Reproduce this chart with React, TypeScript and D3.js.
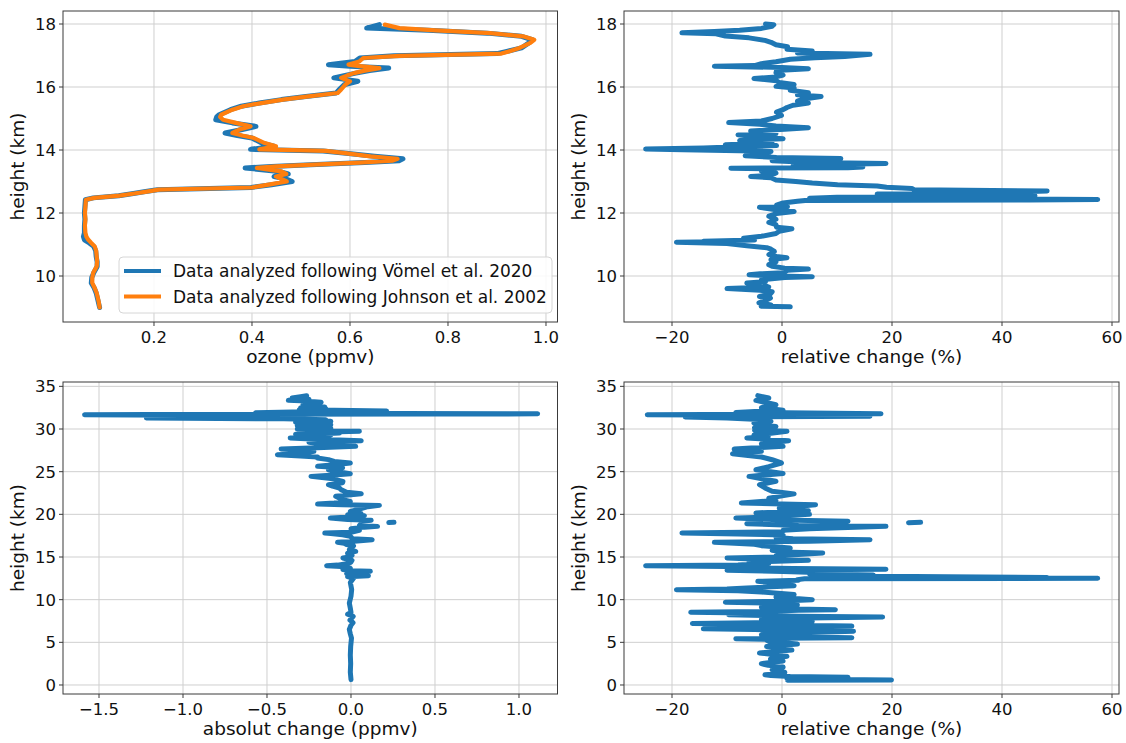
import React from "react";
import * as d3 from "d3";

// ---------- DATA ----------
// Panel 1: ozone profiles (9–18 km)
const ozoneHeights = [9.0, 9.2, 9.46, 9.62, 9.78, 9.95, 10.1, 10.3, 10.45, 10.62, 10.8, 10.94, 11.05, 11.15, 11.25, 11.37, 11.6, 11.8, 12.0, 12.2, 12.42, 12.48, 12.55, 12.62, 12.68, 12.74, 12.81, 12.9, 13.0, 13.08, 13.16, 13.24, 13.32, 13.43, 13.48, 13.53, 13.6, 13.66, 13.72, 13.8, 13.9, 13.97, 14.02, 14.12, 14.22, 14.38, 14.46, 14.54, 14.65, 14.75, 14.86, 14.96, 15.05, 15.12, 15.28, 15.39, 15.49, 15.6, 15.7, 15.81, 15.92, 16.07, 16.18, 16.29, 16.37, 16.44, 16.52, 16.6, 16.66, 16.71, 16.81, 16.92, 16.99, 17.06, 17.13, 17.24, 17.4, 17.5, 17.61, 17.71, 17.8, 17.87, 17.98];
const ozoneJohnson = [0.089, 0.087, 0.083, 0.079, 0.074, 0.074, 0.076, 0.083, 0.084, 0.083, 0.082, 0.079, 0.072, 0.066, 0.062, 0.06, 0.059, 0.06, 0.059, 0.06, 0.061, 0.078, 0.13, 0.16, 0.185, 0.21, 0.4, 0.434, 0.471, 0.46, 0.449, 0.47, 0.46, 0.41, 0.45, 0.515, 0.62, 0.686, 0.697, 0.642, 0.59, 0.55, 0.415, 0.449, 0.426, 0.404, 0.38, 0.36, 0.374, 0.397, 0.367, 0.341, 0.335, 0.337, 0.36, 0.382, 0.419, 0.463, 0.515, 0.575, 0.582, 0.59, 0.6, 0.582, 0.595, 0.608, 0.63, 0.66, 0.62, 0.597, 0.619, 0.627, 0.701, 0.909, 0.924, 0.946, 0.968, 0.976, 0.953, 0.886, 0.775, 0.701, 0.671];
const ozoneVomel = [0.089, 0.086, 0.082, 0.078, 0.072, 0.073, 0.077, 0.084, 0.084, 0.082, 0.081, 0.077, 0.068, 0.058, 0.056, 0.058, 0.058, 0.059, 0.058, 0.059, 0.06, 0.076, 0.128, 0.158, 0.183, 0.207, 0.398, 0.44, 0.482, 0.47, 0.445, 0.474, 0.455, 0.386, 0.44, 0.52, 0.63, 0.7, 0.708, 0.65, 0.592, 0.545, 0.397, 0.445, 0.42, 0.4, 0.37, 0.345, 0.38, 0.408, 0.36, 0.326, 0.328, 0.333, 0.356, 0.378, 0.415, 0.46, 0.51, 0.572, 0.578, 0.588, 0.616, 0.567, 0.59, 0.612, 0.64, 0.679, 0.6, 0.556, 0.61, 0.62, 0.69, 0.9, 0.92, 0.95, 0.965, 0.972, 0.95, 0.88, 0.76, 0.634, 0.66];

// Panel 2: relative change (%) 9–18 km, [height km, change %]
const relUpper: [number, number][] = [
  [9.02, 1.5], [9.04, -3.8], [9.08, -2.0], [9.15, -4.2], [9.22, -3.0], [9.3, -2.1], [9.35, -4.1], [9.42, -2.2], [9.5, -1.8], [9.55, -4.0], [9.6, -10.0], [9.63, -6.0], [9.65, -2.4], [9.72, -3.5], [9.78, -6.4], [9.82, -3.0], [9.88, -3.75], [9.95, 0.5], [9.98, 5.5], [10.0, -1.0], [10.04, -6.0], [10.07, -4.0], [10.1, 0.2], [10.18, 1.0], [10.22, 4.8], [10.25, 0.5], [10.31, -1.8], [10.36, -2.4], [10.45, -1.1], [10.52, -2.0], [10.58, 0.9], [10.62, -1.0], [10.68, -2.4], [10.78, -1.4], [10.85, -2.0], [10.9, -2.8], [10.96, -6.4], [11.03, -10.0], [11.07, -19.2], [11.09, -12.0], [11.1, -14.3], [11.14, -5.0], [11.2, -7.0], [11.26, -3.75], [11.35, -1.1], [11.42, -0.5], [11.5, 1.8], [11.55, -1.0], [11.63, -1.1], [11.7, -2.4], [11.8, -1.1], [11.9, -2.4], [11.98, -1.0], [12.05, 2.2], [12.1, -1.1], [12.18, -4.1], [12.2, 1.0], [12.25, -1.0], [12.32, 0.2], [12.37, 2.8], [12.4, 4.2], [12.41, 45.0], [12.43, 57.4], [12.45, 35.0], [12.47, 5.0], [12.5, 10.0], [12.55, 46.0], [12.58, 31.8], [12.6, 17.3], [12.63, 35.0], [12.7, 48.2], [12.74, 24.0], [12.78, 23.6], [12.82, 19.0], [12.86, 17.3], [12.9, 10.1], [12.95, 5.5], [13.0, 2.5], [13.05, -1.1], [13.12, -2.0], [13.16, -5.7], [13.2, -2.0], [13.27, -1.1], [13.33, -3.75], [13.4, -2.0], [13.42, -9.3], [13.44, 12.0], [13.46, 14.7], [13.5, 2.0], [13.55, 10.0], [13.57, 18.9], [13.6, 5.5], [13.66, -1.8], [13.71, 2.0], [13.73, 10.7], [13.76, -1.0], [13.82, -6.7], [13.86, -2.4], [13.9, -5.0], [13.95, -2.0], [13.98, -7.7], [14.01, -18.0], [14.03, -24.8], [14.06, -14.3], [14.1, -8.0], [14.14, -1.0], [14.17, -10.3], [14.22, -1.8], [14.3, -7.7], [14.36, 0.2], [14.42, -5.0], [14.48, -8.0], [14.52, -1.1], [14.6, -5.7], [14.66, 0.5], [14.71, 4.8], [14.76, -1.1], [14.82, -4.0], [14.87, -9.7], [14.92, -3.75], [15.0, -1.8], [15.1, -0.1], [15.2, -1.0], [15.28, 0.2], [15.35, 0.9], [15.42, 2.0], [15.49, 4.8], [15.55, 2.8], [15.62, 4.0], [15.7, 7.1], [15.75, 2.8], [15.82, 4.8], [15.9, 1.5], [15.97, 2.2], [16.02, -1.1], [16.08, 2.2], [16.14, -0.5], [16.2, -1.0], [16.27, -5.1], [16.32, -1.1], [16.38, 0.2], [16.45, -1.1], [16.52, -1.0], [16.58, 4.8], [16.62, 0.0], [16.66, -12.3], [16.68, -5.0], [16.74, -3.75], [16.8, -1.1], [16.88, 1.5], [16.93, 6.0], [16.97, 11.4], [17.04, 16.0], [17.08, 2.8], [17.14, 5.5], [17.2, 0.9], [17.28, 1.0], [17.34, -1.1], [17.42, -2.0], [17.48, -3.1], [17.56, -6.0], [17.62, -10.3], [17.69, -12.0], [17.72, -18.2], [17.76, -12.3], [17.8, -7.7], [17.86, -3.75], [17.93, -1.8], [17.98, -1.5], [18.0, -3.0],
];

// Panel 3: absolute change (ppmv) 0–34 km, [height km, change ppmv]
const absChange: [number, number][] = [
  [0.63, 0.0], [1.5, -0.004], [2.5, -0.002], [3.5, -0.004], [4.5, -0.002], [5.5, 0.003], [6.0, -0.004], [6.5, -0.01], [7.0, 0.0], [7.3, 0.012], [7.6, -0.006], [8.05, 0.013], [8.3, -0.02], [8.5, 0.0], [9.0, -0.004], [9.6, -0.01], [10.4, 0.0], [11.2, 0.004], [12.0, -0.004], [12.5, 0.015], [12.7, -0.02], [12.8, 0.104], [12.9, 0.03], [13.05, -0.026], [13.2, 0.06], [13.32, 0.115], [13.4, 0.0], [13.52, -0.048], [13.7, -0.004], [13.9, -0.06], [13.98, -0.145], [14.05, -0.08], [14.2, -0.026], [14.4, 0.0], [14.61, 0.006], [14.88, -0.048], [15.0, -0.01], [15.2, 0.006], [15.45, -0.02], [15.66, 0.028], [15.85, -0.01], [16.05, -0.004], [16.3, 0.015], [16.45, -0.026], [16.6, -0.04], [16.72, -0.08], [16.85, 0.02], [17.03, 0.126], [17.15, 0.01], [17.42, -0.004], [17.6, -0.05], [17.75, -0.12], [17.81, -0.156], [17.9, 0.0], [18.13, 0.05], [18.3, 0.0], [18.5, 0.08], [18.59, 0.158], [18.7, 0.05], [18.91, 0.061], [18.95, NaN], [19.03, 0.225], [19.06, 0.256], [19.1, NaN], [19.18, 0.061], [19.3, 0.12], [19.4, -0.02], [19.57, -0.123], [19.7, 0.0], [19.85, 0.08], [19.96, -0.02], [20.1, 0.06], [20.35, -0.004], [20.6, 0.05], [20.9, 0.1], [21.05, 0.169], [21.13, -0.05], [21.2, -0.199], [21.33, -0.1], [21.5, -0.004], [21.72, -0.05], [22.11, -0.091], [22.3, 0.0], [22.42, 0.061], [22.6, -0.026], [22.9, -0.06], [23.09, -0.069], [23.3, -0.11], [23.48, -0.134], [23.7, -0.05], [23.87, -0.048], [24.2, -0.12], [24.45, -0.238], [24.6, -0.1], [24.77, -0.004], [25.0, -0.08], [25.23, -0.134], [25.45, -0.05], [25.63, -0.199], [25.8, -0.1], [26.02, -0.004], [26.2, -0.1], [26.41, -0.134], [26.6, -0.2], [26.72, -0.199], [26.85, -0.3], [26.99, -0.438], [27.1, -0.3], [27.38, -0.221], [27.5, -0.3], [27.66, -0.416], [27.8, -0.2], [27.97, 0.028], [28.1, -0.1], [28.28, -0.178], [28.45, -0.25], [28.63, 0.061], [28.8, -0.2], [28.9, -0.3], [28.95, -0.362], [29.0, -0.15], [29.1, -0.3], [29.22, -0.243], [29.3, -0.12], [29.4, -0.33], [29.5, -0.1], [29.53, -0.069], [29.6, -0.25], [29.73, 0.05], [29.8, -0.3], [29.9, -0.15], [30.0, -0.32], [30.1, -0.12], [30.2, -0.3], [30.31, -0.15], [30.4, -0.32], [30.5, -0.12], [30.6, -0.3], [30.7, -0.14], [30.8, -0.33], [30.9, -0.12], [31.0, -0.3], [31.09, -0.15], [31.2, -0.4], [31.28, -1.218], [31.32, -0.9], [31.4, -0.654], [31.55, -0.3], [31.62, -1.0], [31.66, -1.586], [31.7, -1.2], [31.75, 0.5], [31.78, 1.111], [31.82, 0.3], [31.9, -0.568], [32.0, -0.35], [32.11, 0.212], [32.2, -0.1], [32.27, -0.308], [32.4, -0.15], [32.5, -0.3], [32.58, -0.156], [32.7, -0.25], [32.85, -0.286], [33.0, -0.2], [33.13, -0.178], [33.3, -0.3], [33.36, -0.373], [33.5, -0.25], [33.63, -0.351], [33.8, -0.3], [33.91, -0.264],
];

// Panel 4: relative change (%) 0–34 km, [height km, change %]
const relFull: [number, number][] = [
  [0.55, 1.0], [0.6, 19.9], [0.68, 5.0], [0.75, 0.9], [0.9, 12.0], [1.0, 1.5], [1.1, -2.0], [1.2, -3.1], [1.35, 0.0], [1.5, 0.5], [1.8, -1.8], [2.1, 0.2], [2.3, -2.5], [2.5, -3.75], [2.8, 0.2], [3.05, -2.1], [3.36, 0.9], [3.6, -2.0], [3.75, -4.1], [4.1, 1.8], [4.5, -2.8], [4.8, 2.8], [5.1, -2.4], [5.35, -3.0], [5.42, -8.4], [5.48, 0.0], [5.55, 12.7], [5.65, 2.0], [5.9, -3.75], [6.1, 2.0], [6.3, 13.0], [6.4, 3.0], [6.5, -5.0], [6.58, -14.3], [6.7, -3.0], [6.85, 5.0], [6.9, 12.7], [7.0, 2.0], [7.15, -6.0], [7.2, -16.3], [7.3, -5.0], [7.46, 5.5], [7.7, -3.75], [7.85, 5.0], [7.97, 18.3], [8.05, 3.0], [8.24, -9.7], [8.4, -3.0], [8.52, -16.6], [8.6, -4.0], [8.75, 3.0], [8.83, 9.7], [8.95, 0.0], [9.14, -3.75], [9.4, 2.8], [9.6, -3.0], [9.69, -10.3], [9.8, -2.0], [10.0, 5.5], [10.31, -1.1], [10.6, 2.2], [10.9, -3.75], [11.05, -8.0], [11.17, -19.2], [11.25, -10.0], [11.37, -6.4], [11.5, -2.0], [11.64, 2.2], [11.95, -1.1], [12.15, -4.4], [12.27, 3.0], [12.35, 2.8], [12.45, 4.1], [12.5, 57.4], [12.55, 20.0], [12.6, 48.2], [12.7, 30.0], [12.8, 6.0], [12.9, 16.6], [13.0, 5.0], [13.1, 10.7], [13.3, 0.2], [13.45, -10.0], [13.5, 5.0], [13.56, 18.9], [13.65, 2.0], [13.79, -9.7], [13.9, -10.0], [13.98, -24.8], [14.05, -8.0], [14.26, -2.4], [14.4, -6.0], [14.61, 4.8], [14.7, -3.0], [14.88, -10.0], [15.0, -1.1], [15.16, -1.1], [15.3, 3.0], [15.47, 7.4], [15.6, 0.0], [15.78, -1.8], [16.05, 1.5], [16.33, -3.75], [16.5, -5.0], [16.72, -12.3], [16.85, 5.0], [17.03, 16.0], [17.15, 2.0], [17.3, -1.1], [17.58, 0.2], [17.7, -8.0], [17.81, -18.2], [17.95, 0.2], [18.13, 0.2], [18.3, 5.0], [18.59, 18.9], [18.7, 3.0], [18.91, -6.4], [18.95, NaN], [19.02, 23.0], [19.06, 25.2], [19.1, NaN], [19.2, 12.0], [19.35, 0.0], [19.57, -8.4], [19.7, 0.0], [19.88, 1.5], [20.0, 5.0], [20.16, -4.75], [20.43, 4.8], [20.74, -0.5], [20.95, 3.0], [21.13, 6.1], [21.2, 0.0], [21.33, -7.4], [21.64, -1.1], [21.9, -2.4], [22.4, 2.2], [22.7, -1.8], [23.1, -3.1], [23.48, -4.1], [23.87, -1.1], [24.45, -6.0], [24.8, 0.2], [25.23, -4.75], [25.6, -2.4], [26.02, -0.1], [26.4, -1.8], [26.72, -3.75], [27.1, -9.0], [27.38, -3.75], [27.66, -8.7], [27.97, 0.2], [28.28, -3.75], [28.63, 1.2], [28.95, -6.4], [29.1, -2.5], [29.3, -5.1], [29.5, -2.0], [29.73, 0.9], [29.85, -5.0], [30.0, -3.75], [30.15, -5.0], [30.31, -1.1], [30.5, -4.5], [30.7, -5.1], [30.9, -2.0], [31.09, -3.1], [31.3, -10.0], [31.4, -17.6], [31.5, 16.0], [31.6, -5.0], [31.68, -24.5], [31.75, 0.0], [31.8, 18.0], [31.95, -8.4], [32.2, 0.2], [32.5, -3.75], [32.85, -1.1], [33.13, -3.1], [33.36, -4.75], [33.63, -2.4], [33.91, -4.4],
];

// Ticks and labels
const ozoneTicks = [0.2, 0.4, 0.6, 0.8, 1.0];
const relTicks = [-20, 0, 20, 40, 60];
const absTicks = [-1.5, -1.0, -0.5, 0.0, 0.5, 1.0];
const upperHeightTicks = [10, 12, 14, 16, 18];
const fullHeightTicks = [0, 5, 10, 15, 20, 25, 30, 35];
const legendLabels = ["Data analyzed following Vömel et al. 2020", "Data analyzed following Johnson et al. 2002"];

const BLUE = "#1f77b4";
const ORANGE = "#ff7f0e";
const FONT = "DejaVu Sans, Verdana, sans-serif";

type Pt = [number, number];
type Series = { points: Pt[]; color: string; width: number };

type PanelProps = {
  left: number; top: number; right: number; bottom: number;
  xDomain: [number, number]; yDomain: [number, number];
  xTicks: number[]; yTicks: number[];
  xFormat: (v: number) => string;
  xLabel: string; yLabel: string;
  series: Series[];
  legend?: boolean;
};

function Panel(p: PanelProps) {
  const x = d3.scaleLinear().domain(p.xDomain).range([p.left, p.right]);
  const y = d3.scaleLinear().domain(p.yDomain).range([p.bottom, p.top]);
  const line = d3
    .line<Pt>()
    .defined((d) => !isNaN(d[1]))
    .x((d) => x(d[1]))
    .y((d) => y(d[0]));
  const gridColor = "#cfcfcf";
  const spine = "#3a3a3a";
  const cx = (p.left + p.right) / 2;
  const cy = (p.top + p.bottom) / 2;
  return (
    <g>
      {p.xTicks.map((t) => (
        <line key={"gx" + t} x1={x(t)} x2={x(t)} y1={p.top} y2={p.bottom} stroke={gridColor} strokeWidth={1} />
      ))}
      {p.yTicks.map((t) => (
        <line key={"gy" + t} x1={p.left} x2={p.right} y1={y(t)} y2={y(t)} stroke={gridColor} strokeWidth={1} />
      ))}
      {p.series.map((s, i) => (
        <path
          key={"s" + i}
          d={line(s.points) || ""}
          fill="none"
          stroke={s.color}
          strokeWidth={s.width}
          strokeLinejoin="round"
          strokeLinecap="round"
        />
      ))}
      <rect x={p.left} y={p.top} width={p.right - p.left} height={p.bottom - p.top} fill="none" stroke={spine} strokeWidth={1} />
      {p.xTicks.map((t) => (
        <g key={"xt" + t}>
          <line x1={x(t)} x2={x(t)} y1={p.bottom} y2={p.bottom + 4} stroke={spine} strokeWidth={1} />
          <text x={x(t)} y={p.bottom + 21} textAnchor="middle" fontSize={16.5} fontFamily={FONT} fill="#111">
            {p.xFormat(t)}
          </text>
        </g>
      ))}
      {p.yTicks.map((t) => (
        <g key={"yt" + t}>
          <line x1={p.left - 4} x2={p.left} y1={y(t)} y2={y(t)} stroke={spine} strokeWidth={1} />
          <text x={p.left - 7} y={y(t) + 6} textAnchor="end" fontSize={16.5} fontFamily={FONT} fill="#111">
            {d3.format("d")(t)}
          </text>
        </g>
      ))}
      <text x={cx} y={p.bottom + 41} textAnchor="middle" fontSize={18.5} fontFamily={FONT} fill="#111">
        {p.xLabel}
      </text>
      <text
        transform={`translate(${p.left - 39},${cy}) rotate(-90)`}
        textAnchor="middle"
        fontSize={18.5}
        fontFamily={FONT}
        fill="#111"
      >
        {p.yLabel}
      </text>
      {p.legend && (
        <g>
          <rect x={119} y={257} width={433} height={56} rx={4} fill="white" fillOpacity={0.85} stroke="#d6d6d6" strokeWidth={1} />
          {legendLabels.map((lab, i) => (
            <g key={lab}>
              <line x1={124} x2={161} y1={271 + i * 25.5} y2={271 + i * 25.5} stroke={i === 0 ? BLUE : ORANGE} strokeWidth={4} />
              <text x={173} y={277 + i * 25.5} fontSize={17} fontFamily={FONT} fill="#111">
                {lab}
              </text>
            </g>
          ))}
        </g>
      )}
    </g>
  );
}

export default function App() {
  const f1 = d3.format(".1f");
  const fInt = d3.format("d");
  const zipOzone = (vals: number[]): Pt[] => ozoneHeights.map((h, i) => [h, vals[i]] as Pt);
  return (
    <svg width={1126} height={743} style={{ position: "absolute", left: 0, top: 0, background: "white" }}>
      <rect width={1126} height={743} fill="white" />
      <Panel
        left={63} top={11} right={557.5} bottom={322}
        xDomain={[0.01429, 1.02347]} yDomain={[8.5397, 18.4127]}
        xTicks={ozoneTicks} yTicks={upperHeightTicks} xFormat={f1}
        xLabel="ozone (ppmv)" yLabel="height (km)"
        series={[
          { points: zipOzone(ozoneVomel), color: BLUE, width: 5 },
          { points: zipOzone(ozoneJohnson), color: ORANGE, width: 4.2 },
        ]}
        legend
      />
      <Panel
        left={624} top={11} right={1119} bottom={322}
        xDomain={[-28.73, 61.27]} yDomain={[8.5397, 18.4127]}
        xTicks={relTicks} yTicks={upperHeightTicks} xFormat={fInt}
        xLabel="relative change (%)" yLabel="height (km)"
        series={[{ points: relUpper, color: BLUE, width: 5 }]}
      />
      <Panel
        left={63} top={382} right={557.5} bottom={694}
        xDomain={[-1.7143, 1.2292]} yDomain={[-1.055, 35.51]}
        xTicks={absTicks} yTicks={fullHeightTicks} xFormat={f1}
        xLabel="absolut change (ppmv)" yLabel="height (km)"
        series={[{ points: absChange, color: BLUE, width: 5 }]}
      />
      <Panel
        left={624} top={382} right={1119} bottom={694}
        xDomain={[-28.73, 61.27]} yDomain={[-1.055, 35.51]}
        xTicks={relTicks} yTicks={fullHeightTicks} xFormat={fInt}
        xLabel="relative change (%)" yLabel="height (km)"
        series={[{ points: relFull, color: BLUE, width: 5 }]}
      />
    </svg>
  );
}
